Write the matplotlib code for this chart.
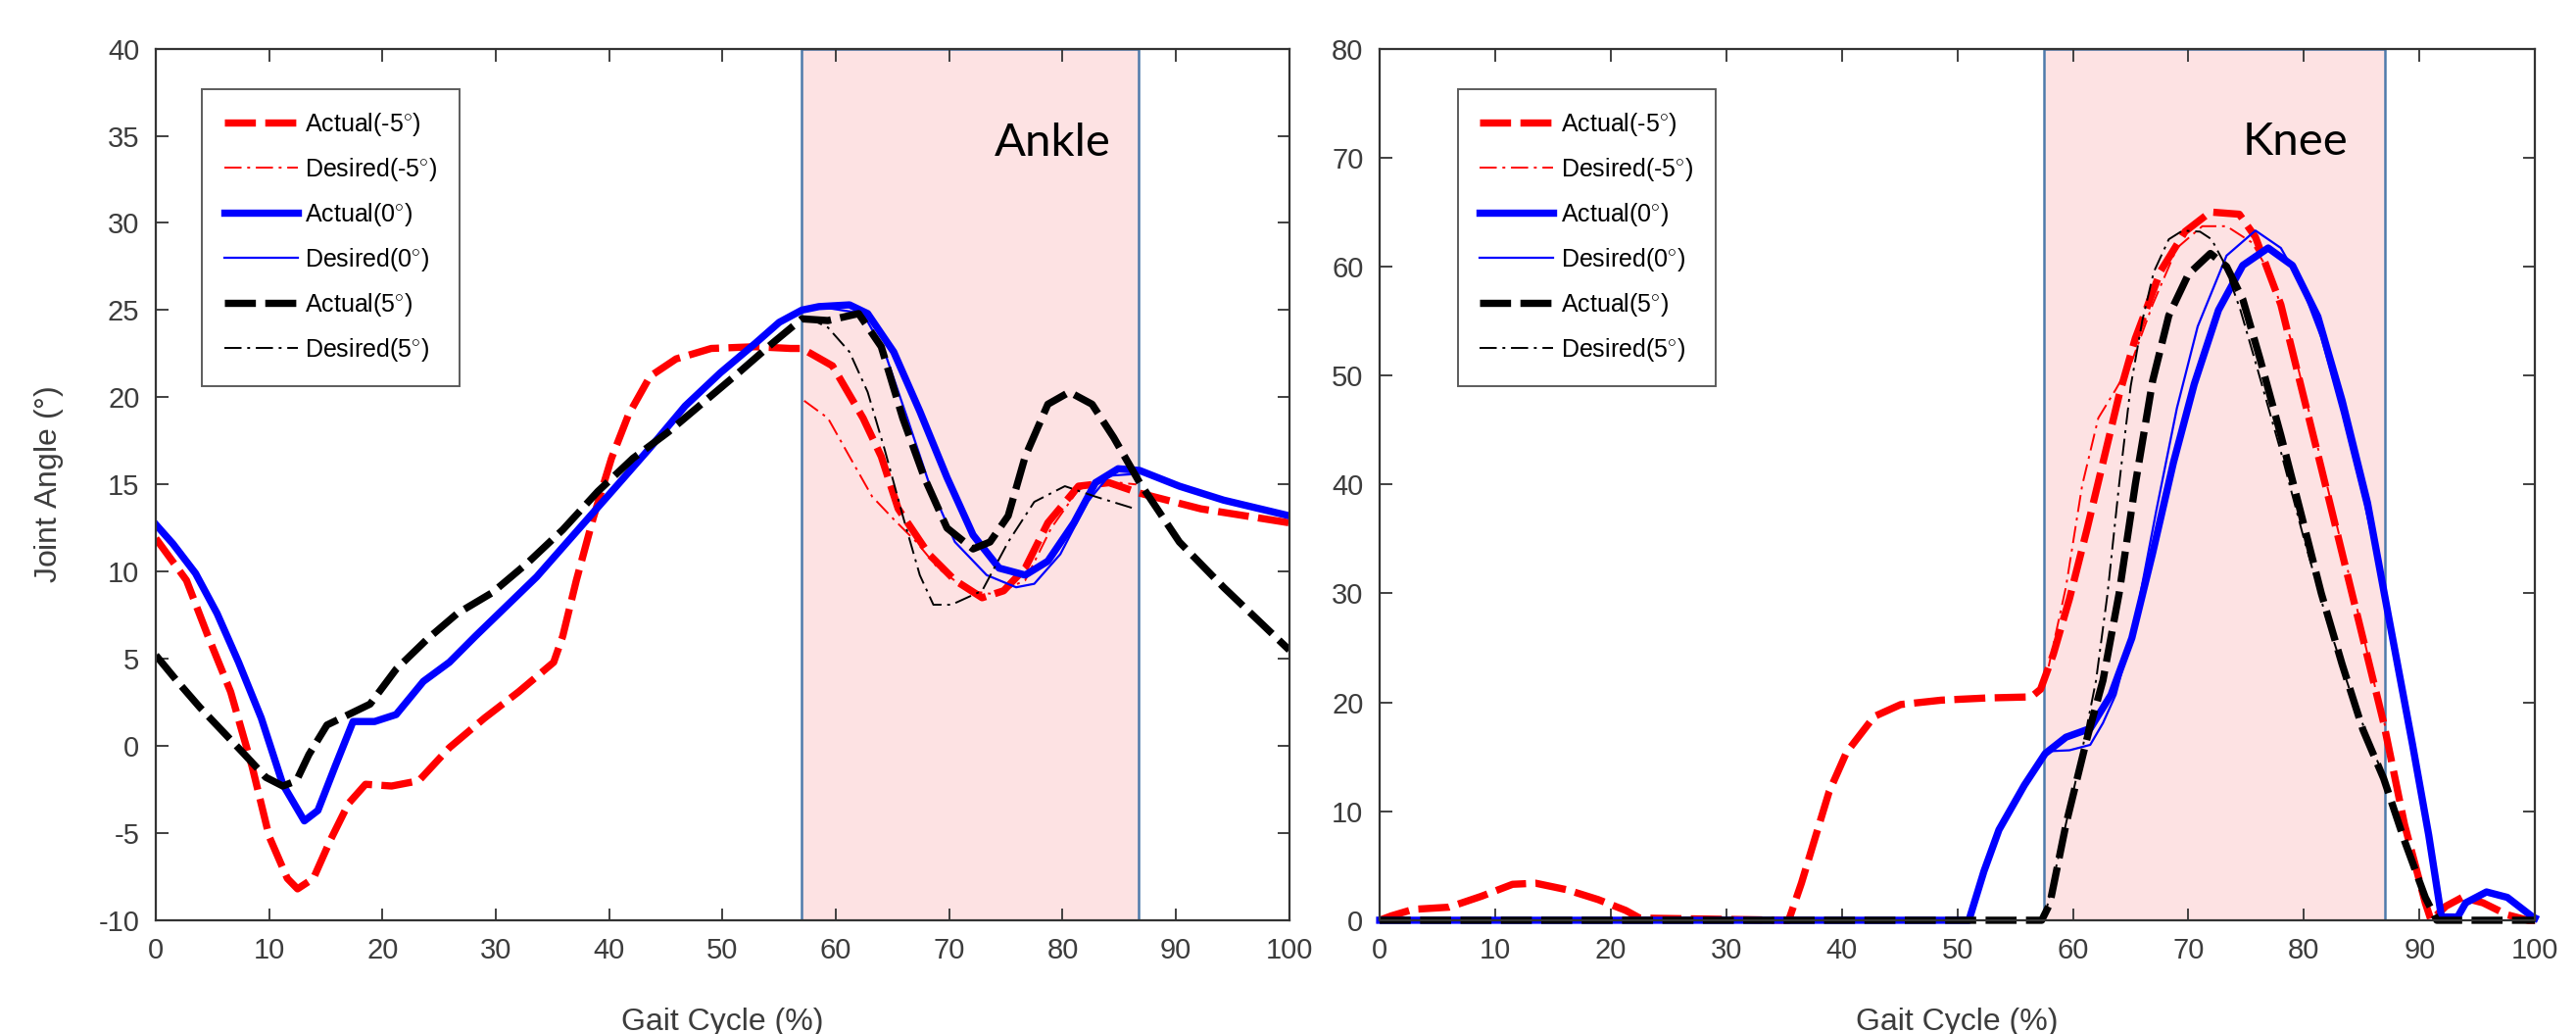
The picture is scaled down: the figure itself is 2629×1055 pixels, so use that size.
import matplotlib
matplotlib.use("Agg")
from matplotlib import pyplot as plt

plt.rcParams['font.family'] = ['Liberation Sans Narrow', 'Liberation Sans', 'DejaVu Sans']
plt.rcParams['mathtext.fontset'] = 'custom'
plt.rcParams['mathtext.rm'] = 'Liberation Sans'
plt.rcParams['axes.unicode_minus'] = False

# ---------------- Ankle data (gait cycle %, angle deg) ----------------
ank_act_m5_x = [0, 2.7, 4.6, 6.6, 8.5, 10, 11.6, 12.5, 13.9, 15.4, 17, 18.5, 20.8, 23.2, 25.9, 29, 32, 35.1,
                35.9, 37.1, 38.6, 40.2, 41.7, 43.6, 45.9, 49, 52.9, 56, 57, 59.7, 62.4, 64, 65.5, 68.2, 70.5,
                72.9, 74.8, 76.7, 78.7, 81.4, 84.1, 86.8, 92.2, 100]
ank_act_m5_y = [11.9, 9.5, 6.3, 3.1, -1.2, -5.2, -7.6, -8.2, -7.6, -5.4, -3.3, -2.2, -2.3, -2.0, -0.1, 1.6, 3.1, 4.8,
                6.3, 9.5, 13.1, 16.5, 19.0, 21.2, 22.2, 22.8, 22.9, 22.8, 22.8, 21.8, 18.8, 16.6, 13.6, 11.0, 9.5,
                8.5, 8.9, 10.2, 12.8, 14.9, 15.1, 14.5, 13.6, 12.8]
ank_des_m5_x = [57.2, 59.3, 61.2, 63.2, 65.1, 67.1, 69, 71.7, 74, 76.7, 79, 81.4, 83.5, 86.5]
ank_des_m5_y = [19.8, 18.8, 16.6, 14.3, 13.0, 11.7, 10.2, 8.9, 8.7, 9.5, 12.5, 14.7, 15.2, 15.0]

ank_act_0_x = [0, 1.5, 3.5, 5.4, 7.3, 9.3, 11.2, 13.1, 14.3, 15.8, 17.4, 19.3, 21.2, 23.6, 25.9, 28.2, 30.9,
               33.6, 35.9, 38.2, 40.5, 43.6, 46.7, 49.8, 52.9, 55, 57, 58.5, 61.2, 62.8, 65.1, 67.4, 69.8, 72.1,
               74.4, 76.7, 78.7, 81, 82.9, 84.9, 86.8, 90.3, 94.2, 100]
ank_act_0_y = [12.7, 11.6, 9.9, 7.6, 4.8, 1.6, -2.2, -4.3, -3.7, -1.2, 1.4, 1.4, 1.8, 3.7, 4.8, 6.3, 8.0,
               9.7, 11.4, 13.1, 14.8, 17.1, 19.5, 21.4, 23.1, 24.3, 25.0, 25.2, 25.3, 24.8, 22.6, 19.2, 15.4, 12.1,
               10.2, 9.8, 10.6, 12.8, 15.1, 15.9, 15.8, 14.9, 14.1, 13.2]
ank_des_0_x = [57, 58.5, 62.4, 64.3, 66.3, 68.2, 70.5, 73.3, 75.9, 77.5, 79.8, 82.2, 84.1, 86.4]
ank_des_0_y = [25.0, 25.2, 24.8, 22.6, 18.8, 15.1, 11.7, 9.8, 9.1, 9.3, 11.0, 14.0, 15.5, 15.6]

ank_act_5_x = [0, 1.9, 3.9, 5.8, 7.7, 9.7, 11.2, 12.4, 13.5, 15.1, 17, 18.9, 21.2, 23.9, 26.6, 29.7, 32.8,
               35.9, 39, 42.1, 45.2, 48.3, 51.4, 54.4, 57, 59.3, 62, 64, 65.9, 67.8, 69.8, 72.1, 73.6, 75.2,
               76.7, 78.7, 80.6, 82.6, 84.5, 86.8, 90.3, 94.2, 100]
ank_act_5_y = [5.2, 3.7, 2.2, 0.9, -0.4, -1.8, -2.3, -2.0, -0.5, 1.2, 1.8, 2.4, 4.4, 6.1, 7.6, 8.8, 10.5,
               12.4, 14.6, 16.5, 18.0, 19.7, 21.4, 23.1, 24.5, 24.4, 24.8, 22.9, 18.8, 15.4, 12.5, 11.3, 11.7, 13.2,
               16.6, 19.6, 20.3, 19.6, 17.7, 15.1, 11.7, 9.1, 5.5]
ank_des_5_x = [57.4, 59.3, 61.2, 62.8, 64.3, 65.9, 67.4, 68.6, 70.2, 72.9, 75.2, 77.5, 80.2, 82.9, 86.4]
ank_des_5_y = [24.6, 24.0, 22.6, 20.3, 17.0, 13.2, 9.8, 8.1, 8.1, 8.9, 11.7, 14.0, 14.9, 14.3, 13.6]

# ---------------- Knee data ----------------
knee_act_m5_x = [0, 1, 2.9, 6, 8.8, 11.5, 13.5, 16.2, 18.9, 21.3, 22.5, 35.4, 36.5, 37.7, 38.9, 40.4, 42.8,
                 45.1, 48.6, 52.5, 56.4, 57.2, 58.3, 59.7, 61.2, 62.6, 64, 65.4, 67.6, 69.7, 71.9, 74.4, 75.8,
                 78, 79.7, 81.5, 83.3, 85.1, 86.9, 88.7, 90.5, 91, 92.3, 93.7, 95.5, 97.6, 99.4, 100]
knee_act_m5_y = [0, 0.4, 1.0, 1.2, 2.2, 3.3, 3.4, 2.8, 1.9, 0.9, 0.2, 0, 3.4, 7.6, 11.8, 15.4, 18.7,
                 19.8, 20.2, 20.4, 20.5, 21.2, 24.4, 29.5, 35.8, 42.0, 48.2, 53.4, 59.6, 63.2, 65.0, 64.8, 62.7,
                 56.5, 49.2, 41.5, 33.7, 25.9, 18.1, 8.8, 1.6, 0, 1.3, 2.1, 1.6, 0.5, 0, 0]
knee_des_m5_x = [57.9, 59.4, 60.8, 62.2, 63.7, 65.1, 66.9, 69, 71.2, 73.3, 75.5, 77.2, 79, 80.8, 82.6,
                 84.4, 86.2, 87.2]
knee_des_m5_y = [23.3, 30.6, 39.9, 46.1, 48.7, 51.3, 56.5, 61.7, 63.7, 63.7, 62.2, 59.1, 52.8, 45.1, 37.3,
                 29.5, 21.2, 17.1]

knee_act_0_x = [0, 51, 52.3, 53.6, 55.8, 57.6, 59.4, 61.5, 63.3, 65.1, 66.9, 68.7, 70.5, 72.6, 74.7, 76.9, 79,
                81.2, 83.3, 85.5, 87.3, 89.4, 90.8, 91.9, 93.3, 94, 95.8, 97.6, 99.8, 100]
knee_act_0_y = [0, 0, 4.5, 8.3, 12.4, 15.3, 16.8, 17.6, 20.7, 25.9, 33.7, 42.0, 49.2, 56.0, 60.1, 61.7, 60.1,
                55.4, 47.7, 38.3, 28.0, 16.1, 7.8, 0.3, 0.3, 1.6, 2.6, 2.1, 0.3, 0.2]
knee_des_0_x = [57.6, 59.7, 61.5, 62.6, 63.7, 65.4, 67.2, 69, 70.8, 73.3, 75.8, 78, 79.7, 81.5, 83.3, 85.3, 87.1]
knee_des_0_y = [15.5, 15.6, 16.1, 18.1, 20.7, 27.5, 37.5, 47.0, 54.5, 61.0, 63.3, 61.7, 58.5, 53.5, 46.5, 38.0, 29.5]

knee_act_5_x = [0, 57.3, 58, 59.4, 61.2, 62.6, 64, 65.4, 66.9, 68.3, 70, 71.9, 73.3, 74.7, 76.2, 78, 79.7,
                81.5, 83.3, 85.1, 86.9, 88.7, 90.5, 91.5, 100]
knee_act_5_y = [0, 0, 1.5, 8.8, 16.6, 22.0, 30.0, 40.0, 49.5, 55.5, 59.3, 61.2, 60.0, 57.0, 51.5, 44.5, 37.5,
                30.0, 23.5, 17.5, 13.0, 7.3, 2.1, 0, 0]
knee_des_5_x = [57.5, 59, 60.5, 62, 63, 64, 65, 66, 67, 68.3, 69.5, 71, 72, 73, 74.5, 76, 78, 80, 82, 84, 86, 87]
knee_des_5_y = [0, 7, 14, 22, 30, 40, 49, 55, 59.5, 62.5, 63.3, 63.2, 62.5, 60.5, 56, 50.5, 43, 35, 27.5,
                21, 15.5, 13]

labels = ['Actual(-5$^{\\circ}$)', 'Desired(-5$^{\\circ}$)', 'Actual(0$^{\\circ}$)',
          'Desired(0$^{\\circ}$)', 'Actual(5$^{\\circ}$)', 'Desired(5$^{\\circ}$)']

dash_thick = (0, (4.3, 1.3))
dashdot_thin = (0, (9, 3, 1.5, 3))
tick_col = '#3c3c3c'


def draw(ax, series, span, ylim, yticks, name, name_xy, clip=True):
    ax.axvspan(span[0], span[1], facecolor='#fde2e3', edgecolor='#4e7aab', lw=1.8, zorder=0)
    styles = [('red', dash_thick, 5.3), ('red', dashdot_thin, 1.4),
              ('blue', '-', 5.3), ('blue', '-', 1.6),
              ('black', dash_thick, 5.3), ('black', dashdot_thin, 1.4)]
    for (xs, ys), (c, ls, lw), lab in zip(series, styles, labels):
        ax.plot(xs, ys, color=c, linestyle=ls, lw=lw, label=lab, zorder=2, clip_on=clip)
    ax.set_xlim(0, 100)
    ax.set_ylim(*ylim)
    ax.set_xticks(range(0, 101, 10))
    ax.set_yticks(yticks)
    ax.tick_params(direction='in', top=True, right=True, length=9, width=1.3,
                   labelsize=21, labelcolor=tick_col, colors='#333333', pad=12)
    for tl in ax.get_xticklabels() + ax.get_yticklabels():
        tl.set_color(tick_col)
    for s in ax.spines.values():
        s.set_color('#333333')
        s.set_linewidth(1.6)
    ax.set_xlabel('Gait Cycle (%)', fontsize=23, color=tick_col)
    ax.xaxis.set_label_coords(0.5, -0.1)
    ax.text(name_xy[0], name_xy[1], name, fontsize=34, family=['Lato', 'DejaVu Sans'],
            ha='left', va='center', color='black', zorder=3)
    return ax.legend(loc='upper left', fontsize=18, frameon=True, fancybox=False, edgecolor='#333333',
                     handlelength=3.0, labelspacing=0.72, borderpad=0.9, handletextpad=0.3)


fig = plt.figure(figsize=(26.29, 10.55), dpi=100)
ax1 = fig.add_axes([0.0605, 0.110, 0.440, 0.843])
ax2 = fig.add_axes([0.5356, 0.110, 0.4485, 0.843])

leg1 = draw(ax1, [(ank_act_m5_x, ank_act_m5_y), (ank_des_m5_x, ank_des_m5_y),
                  (ank_act_0_x, ank_act_0_y), (ank_des_0_x, ank_des_0_y),
                  (ank_act_5_x, ank_act_5_y), (ank_des_5_x, ank_des_5_y)],
            (57, 86.7), (-10, 40), range(-10, 41, 5), 'Ankle', (74.0, 34.6))
leg1.set_bbox_to_anchor((0.030, 0.968), transform=ax1.transAxes)
leg1.get_frame().set_linewidth(1.4)
ax1.set_ylabel('Joint Angle ($\\degree$)', fontsize=23, color=tick_col)
ax1.yaxis.set_label_coords(-0.080, 0.5)

leg2 = draw(ax2, [(knee_act_m5_x, knee_act_m5_y), (knee_des_m5_x, knee_des_m5_y),
                  (knee_act_0_x, knee_act_0_y), (knee_des_0_x, knee_des_0_y),
                  (knee_act_5_x, knee_act_5_y), (knee_des_5_x, knee_des_5_y)],
            (57.5, 87.0), (0, 80), range(0, 81, 10), 'Knee', (74.7, 71.4), clip=False)
leg2.set_bbox_to_anchor((0.057, 0.968), transform=ax2.transAxes)
leg2.get_frame().set_linewidth(1.4)

fig.savefig('out.png', dpi=100)
